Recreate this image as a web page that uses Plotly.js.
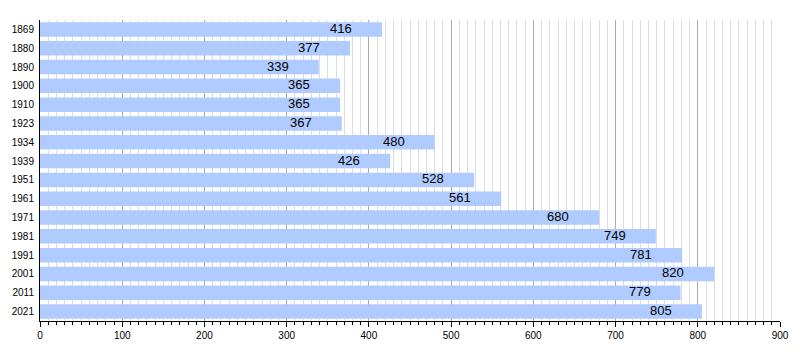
<!DOCTYPE html>
<html>
<head>
<meta charset="utf-8">
<script src="https://cdn.plot.ly/plotly-3.0.1.min.js"></script>
<style>body{margin:0;padding:0;background:#fff;}#chart{width:800px;height:360px;}</style>
</head>
<body>
<div id="chart"></div>
<script>
const years = ["1869","1880","1890","1900","1910","1923","1934","1939","1951","1961","1971","1981","1991","2001","2011","2021"];
const population = [416,377,339,365,365,367,480,426,528,561,680,749,781,820,779,805];
const xTickValues = [0,100,200,300,400,500,600,700,800,900];

const trace = {
  type: 'bar',
  orientation: 'h',
  y: years,
  x: population,
  marker: {color: '#b0cbff', line: {width: 0}},
  hoverinfo: 'x+y'
};

// category axis positions are the indices of the years array
const annotations = years.map((yr, i) => ({
  x: population[i], y: i, xref: 'x', yref: 'y',
  text: String(population[i]), showarrow: false,
  xanchor: 'right', xshift: -28, yshift: 1,
  font: {family: 'Liberation Sans, Arial, sans-serif', size: 13, color: '#000'}
}));

const layout = {
  width: 800, height: 360,
  margin: {l: 40, r: 20, t: 20, b: 39},
  paper_bgcolor: '#fff', plot_bgcolor: '#fff',
  showlegend: false,
  bargap: 0.23,
  font: {family: 'Liberation Sans, Arial, sans-serif', size: 10, color: '#000'},
  xaxis: {
    range: [0, 900],
    tickvals: xTickValues,
    ticks: 'outside', ticklen: 5, tickcolor: '#000', tickwidth: 1,
    showline: true, linecolor: '#000', linewidth: 1,
    showgrid: true, gridcolor: '#aaaaaa', gridwidth: 1,
    zeroline: false,
    minor: {dtick: 10, showgrid: true, gridcolor: '#dddddd', gridwidth: 1, ticks: 'outside', ticklen: 3, tickcolor: '#000'},
    tickfont: {size: 10}
  },
  yaxis: {
    type: 'category',
    categoryorder: 'array',
    categoryarray: years,
    range: [years.length - 0.5, -0.5],
    autorange: false,
    showline: true, linecolor: '#000', linewidth: 1,
    showgrid: false, zeroline: false,
    ticks: 'outside', ticklen: 3, tickcolor: 'rgba(0,0,0,0)',
    tickfont: {size: 10}
  },
  annotations: annotations
};

Plotly.newPlot('chart', [trace], layout, {displayModeBar: false, staticPlot: true});
</script>
</body>
</html>
